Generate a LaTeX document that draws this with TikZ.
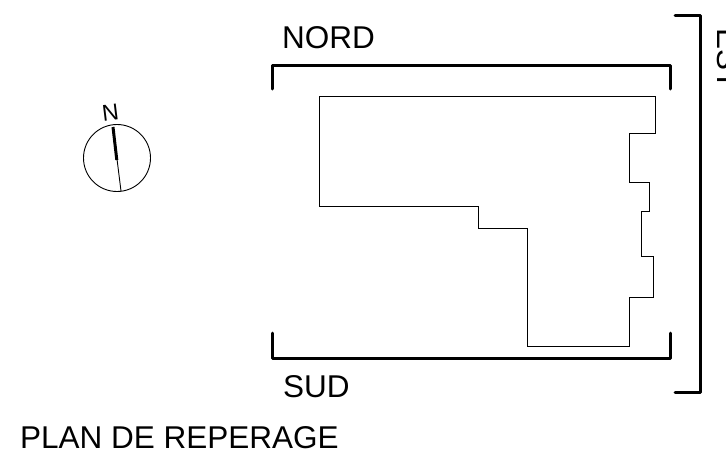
\documentclass[tikz,border=0pt]{standalone}
\usepackage{fontspec}
\setmainfont{Liberation Sans}
\tikzset{
  thinline/.style={draw=black,line width=0.9pt,line join=miter},
  heavyline/.style={draw=black,line width=3pt,line cap=round,line join=round},
  bigtext/.style={inner sep=0pt,font=\fontsize{31.5}{32}\selectfont,anchor=base west},
}
\begin{document}
\begin{tikzpicture}[x=1pt,y=-1pt]
\clip (0,0) rectangle (726,453);
\fill[white] (0,0) rectangle (726,453);
% building outline
\begin{scope}[shift={(-0.5,-0.5)}]
\draw[thinline] (320,97) -- (656,97) -- (656,134) -- (630,134) -- (630,183) -- (650,183) -- (650,212) -- (642,212) -- (642,257) -- (654,257) -- (654,298) -- (630,298) -- (630,347) -- (528,347) -- (528,229) -- (479,229) -- (479,207) -- (320,207) -- cycle;
\end{scope}
% brackets
\draw[heavyline] (272,89) -- (272,65) -- (670,65) -- (670,89);
\draw[heavyline] (272,333) -- (272,358) -- (670,358) -- (670,333);
\draw[heavyline] (675,15) -- (700,15) -- (700,392) -- (675,392);
% labels
\node[bigtext] (nord) at (282,48) {NORD};
\node[bigtext] (sud) at (283,397) {SUD};
\node[bigtext] (plan) at (20,448.5) {PLAN DE REPERAGE};
\node[bigtext,rotate=-90] (est) at (717,28) {EST};
% north symbol
\draw[draw=black,line width=0.9pt] (117,158) circle (33.5);
\draw[draw=black,line width=0.9pt] (113,127) -- (121,191);
\draw[draw=black,line width=3pt] (113,127) -- (116.8,160);
\node[inner sep=0pt,font=\fontsize{23}{23}\selectfont,rotate=7] (north) at (110.5,113) {N};
\end{tikzpicture}
\end{document}
